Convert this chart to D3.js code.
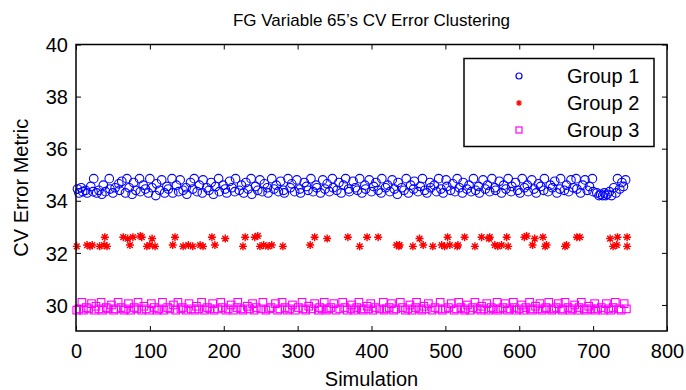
<!DOCTYPE html>
<html><head><meta charset="utf-8">
<script src="https://cdn.jsdelivr.net/npm/d3@7"></script>
<style>
body{margin:0;background:#fff;}
svg{display:block;font-family:"Liberation Sans",Arial,Helvetica,sans-serif;}
</style>
</head><body>
<svg id="chart" width="686" height="390"></svg>
<script>
const titleText = "FG Variable 65\u2019s CV Error Clustering";
const xLabel = "Simulation";
const yLabel = "CV Error Metric";
const groupNames = ["Group 1", "Group 2", "Group 3"];
const xTicks = [0,100,200,300,400,500,600,700,800];
const yTicks = [30,32,34,36,38,40];

const group1Sim = [2,4,7,9,13,15,20,23,24,28,31,35,37,40,45,46,50,53,58,59,62,67,69,72,76,78,81,86,87,91,94,98,100,103,108,109,113,116,120,123,125,130,131,136,139,141,145,149,150,155,158,160,164,167,171,172,177,180,183,186,189,193,194,199,202,204,208,211,215,216,221,224,227,230,233,237,238,243,246,249,252,255,259,260,265,268,271,274,277,281,282,287,290,292,296,299,303,304,309,312,314,318,321,325,326,331,334,337,340,343,347,348,353,356,359,362,365,369,370,375,378,381,384,387,391,392,397,400,403,406,409,413,414,419,422,425,428,431,435,436,441,444,447,450,453,457,458,463,466,469,472,475,479,480,485,488,491,494,497,501,502,507,510,513,516,519,523,524,529,532,535,538,541,545,546,551,554,557,560,563,567,568,573,576,579,582,585,589,590,595,598,601,604,607,611,612,617,620,623,626,629,633,634,639,642,645,648,651,655,656,
  661,664,667,670,673,677,678,683,686,689,692,695,699,700,705,708,710,713,715,717,719,722,725,728,731,733,736,739,741,744];
const group1Err = [34.45,34.3,34.5,34.35,34.4,34.3,34.55,34.35,34.85,34.3,34.4,34.25,34.6,34.35,34.85,34.45,34.3,34.5,34.65,34.4,34.75,34.3,34.85,34.5,34.25,34.7,34.4,34.85,34.35,34.6,34.45,34.3,34.85,34.5,34.2,34.65,34.4,34.8,34.3,34.55,34.45,34.85,34.3,34.6,34.35,34.8,34.4,34.5,34.25,34.7,34.45,34.85,34.35,34.6,34.3,34.8,34.5,34.4,34.7,34.25,34.55,34.85,34.35,34.6,34.45,34.3,34.75,34.5,34.35,34.85,34.4,34.6,34.3,34.7,34.45,34.85,34.25,34.55,34.4,34.8,34.35,34.65,34.5,34.3,34.85,34.45,34.6,34.35,34.75,34.4,34.3,34.85,34.5,34.65,34.35,34.8,34.45,34.3,34.7,34.55,34.4,34.85,34.35,34.6,34.5,34.3,34.8,34.45,34.65,34.35,34.85,34.5,34.4,34.7,34.3,34.6,34.85,34.45,34.35,34.75,34.5,34.4,34.85,34.3,34.6,34.45,34.8,34.35,34.55,34.7,34.4,34.3,34.85,34.5,34.6,34.35,34.8,34.45,34.25,34.7,34.5,34.4,34.85,34.3,34.6,34.45,34.75,34.35,34.55,34.85,34.4,34.3,34.7,34.5,34.6,34.35,34.85,34.45,34.3,34.8,34.55,34.4,34.65,34.35,34.85,34.5,34.3,34.7,34.45,34.6,34.35,34.85,34.4,34.55,34.3,34.8,34.45,34.6,34.35,34.85,34.5,34.4,34.75,34.3,34.6,34.45,34.85,34.35,34.55,34.7,34.4,34.3,34.85,34.5,34.6,34.35,34.8,34.45,34.3,34.65,34.55,34.4,34.85,34.35,34.6,34.5,34.75,34.3,34.45,34.85,
  34.4,34.6,34.35,34.8,34.5,34.85,34.45,34.3,34.6,34.8,34.4,34.55,34.85,34.35,34.3,34.2,34.25,34.2,34.3,34.2,34.25,34.35,34.2,34.5,34.3,34.85,34.45,34.7,34.55,34.8];

const group2Sim = [39,64,70,77,87,89,103,134,184,202,229,242,246,323,340,368,394,409,465,503,526,549,559,560,583,607,610,621,632,678,682,723,733,746,
  1,15,19,22,32,38,42,73,96,100,107,131,145,152,158,168,172,188,226,249,254,260,265,280,317,384,434,437,438,456,470,483,495,499,506,516,517,540,567,571,576,585,618,635,637,662,664,727,732,746];
const group2Err = [32.6,32.6,32.55,32.6,32.65,32.6,32.55,32.6,32.6,32.55,32.6,32.6,32.65,32.6,32.55,32.6,32.6,32.6,32.55,32.6,32.6,32.6,32.55,32.6,32.6,32.6,32.65,32.55,32.6,32.6,32.6,32.55,32.6,32.6,
  32.25,32.3,32.25,32.3,32.25,32.3,32.25,32.3,32.25,32.3,32.25,32.3,32.25,32.3,32.25,32.3,32.25,32.3,32.25,32.25,32.3,32.25,32.3,32.25,32.3,32.25,32.3,32.25,32.3,32.25,32.3,32.25,32.3,32.25,32.3,32.25,32.3,32.25,32.3,32.25,32.3,32.25,32.3,32.25,32.3,32.25,32.3,32.25,32.3,32.25];

const group3Sim = [1,4,8,10,14,17,21,25,27,31,34,36,41,43,48,51,54,57,61,65,67,71,74,79,82,84,89,92,95,99,102,106,110,112,117,119,124,127,132,135,138,142,144,149,153,156,161,163,166,170,174,178,181,185,187,192,196,198,203,206,210,213,218,219,223,226,232,235,239,241,244,250,253,257,262,264,270,273,276,279,283,286,289,293,297,301,306,307,311,315,319,323,328,330,333,336,339,342,345,349,352,357,361,364,367,372,373,377,380,383,386,389,394,396,399,402,405,411,416,417,420,424,427,430,433,439,442,446,449,452,455,460,461,464,468,471,474,477,482,486,490,493,496,500,504,508,512,515,518,521,526,527,530,534,537,540,543,548,549,552,556,559,562,565,570,571,574,578,581,584,587,592,593,596,600,603,606,609,614,615,618,622,625,628,631,636,637,640,644,647,650,653,658,659,662,666,669,672,675,680,681,684,688,691,694,697,702,703,706,711,714,718,721,724,727,730,735,738,742,745];
const group3Err = [29.8,29.85,30.1,29.8,29.9,29.85,30.05,29.8,29.95,29.85,30.1,29.8,29.9,29.85,30.0,29.8,29.85,30.1,29.9,29.8,29.85,30.05,29.8,29.9,29.85,30.1,29.8,29.95,29.85,29.8,30.05,29.9,29.8,29.85,30.1,29.8,29.9,29.85,30.0,29.8,30.1,29.85,29.9,29.8,30.05,29.85,29.8,29.95,29.85,30.1,29.8,29.9,29.85,30.05,29.8,29.85,30.1,29.9,29.8,29.85,30.0,29.8,29.9,30.1,29.85,29.8,29.95,29.85,30.05,29.8,29.9,29.85,30.1,29.8,29.85,29.9,30.05,29.8,29.85,30.1,29.9,29.8,29.85,30.0,29.8,29.9,30.1,29.85,29.8,29.95,29.85,30.05,29.8,29.9,29.85,30.1,29.8,29.85,29.9,30.05,29.8,29.85,30.1,29.9,29.8,29.85,30.0,29.8,29.9,30.1,29.85,29.8,29.95,29.85,30.05,29.8,29.9,29.85,30.1,29.8,29.85,29.9,30.05,29.8,29.85,30.1,29.9,29.8,29.85,30.0,29.8,29.9,30.1,29.85,29.8,29.95,29.85,30.05,29.8,29.9,29.85,30.1,29.8,29.85,29.9,30.05,29.8,29.85,30.1,29.9,29.8,29.85,30.0,29.8,29.9,30.1,29.85,29.8,29.95,29.85,30.05,29.8,29.9,29.85,30.1,29.8,29.85,29.9,30.05,29.8,29.85,30.1,29.9,29.8,29.85,30.0,29.8,29.9,30.1,29.85,29.8,29.95,29.85,30.05,29.8,29.9,29.85,30.1,29.8,29.85,29.9,30.05,29.8,29.85,30.1,29.9,29.8,29.85,30.0,29.8,29.9,30.1,29.85,29.8,29.95,29.85,30.05,29.8,29.85,29.9,29.8,30.05,29.85,
  29.8,29.9,30.1,29.85,29.8,30.05,29.85,29.9,29.8,30.0,29.85,29.8,30.1,29.85,29.9];

const svg = d3.select("#chart");
const L = 76, R = 667, T = 44.5, B = 331;
const x = d3.scaleLinear().domain([0,800]).range([L,R]);
const y = d3.scaleLinear().domain([29,40]).range([B,T]);

const fs = 20;
const gx = svg.append("g").attr("transform",`translate(0,${B})`)
  .call(d3.axisBottom(x).tickValues(xTicks).tickSizeInner(-5).tickSizeOuter(0).tickPadding(13));
const gxt = svg.append("g").attr("transform",`translate(0,${T})`)
  .call(d3.axisTop(x).tickValues(xTicks).tickSizeInner(-5).tickSizeOuter(0).tickFormat(""));
const gy = svg.append("g").attr("transform",`translate(${L},0)`)
  .call(d3.axisLeft(y).tickValues(yTicks).tickSizeInner(-5).tickSizeOuter(0).tickPadding(8));
const gyr = svg.append("g").attr("transform",`translate(${R},0)`)
  .call(d3.axisRight(y).tickValues(yTicks).tickSizeInner(-5).tickSizeOuter(0).tickFormat(""));
[gx,gxt,gy,gyr].forEach(g=>{
  g.select(".domain").remove();
  g.selectAll("line").attr("stroke","#000").attr("stroke-width",1);
  g.selectAll("text").attr("font-size",fs).attr("fill","#000").attr("font-family","Liberation Sans, Arial, sans-serif");
});
gy.selectAll("text").attr("dy","0.36em");

const plot = svg.append("g");

const s3 = 3.8;
plot.append("g").selectAll("rect").data(d3.zip(group3Sim, group3Err)).join("rect")
  .attr("x", d=>x(d[0])-s3).attr("y", d=>y(d[1])-s3)
  .attr("width", s3*2).attr("height", s3*2)
  .attr("fill","none").attr("stroke","#ff00ff").attr("stroke-width",1.1);
plot.append("g").selectAll("circle").data(d3.zip(group1Sim, group1Err)).join("circle")
  .attr("cx", d=>x(d[0])).attr("cy", d=>y(d[1])).attr("r",4.3)
  .attr("fill","none").attr("stroke","#0000ff").attr("stroke-width",1.1);
function starPath(h){
  const dgl = h*0.72;
  return `M${-h},0H${h}M0,${-h}V${h}M${-dgl},${-dgl}L${dgl},${dgl}M${-dgl},${dgl}L${dgl},${-dgl}`;
}
plot.append("g").selectAll("path").data(d3.zip(group2Sim, group2Err)).join("path")
  .attr("transform", d=>`translate(${x(d[0])},${y(d[1])})`)
  .attr("d", starPath(4))
  .attr("fill","none").attr("stroke","#ff0000").attr("stroke-width",1.4);

svg.append("rect").attr("x",L).attr("y",T).attr("width",R-L).attr("height",B-T)
  .attr("fill","none").attr("stroke","#000").attr("stroke-width",1.5);

svg.append("text").attr("x",(L+R)/2).attr("y",26).attr("text-anchor","middle")
  .attr("font-size",17).text(titleText);
svg.append("text").attr("x",(L+R)/2).attr("y",386).attr("text-anchor","middle")
  .attr("font-size",fs).text(xLabel);
svg.append("text").attr("transform",`translate(28,${(T+B)/2}) rotate(-90)`).attr("text-anchor","middle")
  .attr("font-size",fs).text(yLabel);

const lg = svg.append("g");
lg.append("rect").attr("x",464).attr("y",58.5).attr("width",190).attr("height",88)
  .attr("fill","#fff").attr("stroke","#000").attr("stroke-width",1.5);
const rowsY = [76,103,130];
const mx = 519;
lg.append("circle").attr("cx",mx).attr("cy",rowsY[0]).attr("r",3)
  .attr("fill","none").attr("stroke","#0000ff").attr("stroke-width",1.2);
lg.append("path").attr("transform",`translate(${mx},${rowsY[1]})`).attr("d",starPath(3))
  .attr("fill","none").attr("stroke","#ff0000").attr("stroke-width",1.2);
lg.append("rect").attr("x",mx-3).attr("y",rowsY[2]-3).attr("width",6).attr("height",6)
  .attr("fill","none").attr("stroke","#ff00ff").attr("stroke-width",1.2);
groupNames.forEach((n,i)=>{
  lg.append("text").attr("x",567).attr("y",rowsY[i]).attr("dy","0.36em")
    .attr("font-size",fs).text(n);
});
</script>
</body></html>
